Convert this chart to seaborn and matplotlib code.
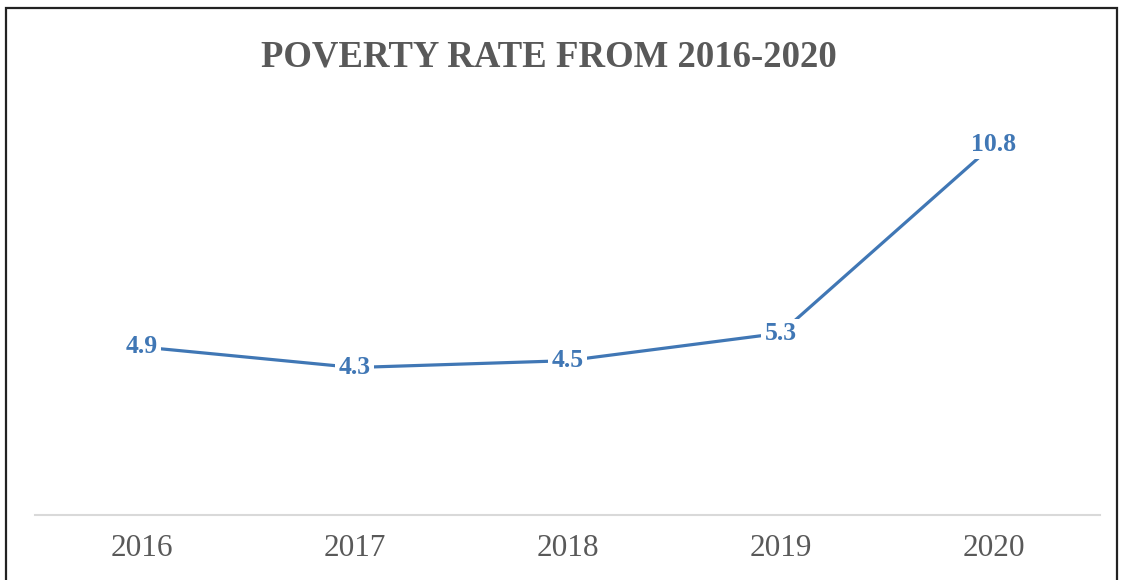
import matplotlib
matplotlib.use("Agg")
import matplotlib.pyplot as plt
import seaborn as sns
import pandas as pd
from matplotlib.patches import Rectangle

years = ["2016", "2017", "2018", "2019", "2020"]
poverty_rate = [4.9, 4.3, 4.5, 5.3, 10.8]
title = "POVERTY RATE FROM 2016-2020"

sns.set_theme(style="white")
plt.rcParams["font.family"] = ["Liberation Serif", "DejaVu Serif"]

df = pd.DataFrame({"year": years, "rate": poverty_rate})

fig = plt.figure(figsize=(11.21, 5.80), dpi=100)
ax = fig.add_axes([35 / 1121, 1 - 515 / 580, 1065 / 1121, 415 / 580])

line_color = "#4077b5"
sns.lineplot(data=df, x="year", y="rate", ax=ax, color=line_color,
             linewidth=2.3, sort=False)

for i, v in enumerate(poverty_rate):
    ax.text(i, v, f"{v}", ha="center", va="center", fontsize=18.5,
            fontweight="bold", color=line_color, zorder=5,
            bbox=dict(boxstyle="square,pad=0.12", fc="white", ec="none"))

ax.set_xlim(-0.5, len(years) - 0.5)
ax.set_ylim(0, 12.1)
ax.set_xlabel("")
ax.set_ylabel("")
ax.set_yticks([])
ax.tick_params(axis="x", length=0, pad=14, labelsize=22.5, labelcolor="#595959")
for s in ["top", "left", "right"]:
    ax.spines[s].set_visible(False)
ax.spines["bottom"].set_color("#d9d9d9")
ax.spines["bottom"].set_linewidth(1.5)

fig.text(549 / 1121, 1 - 57 / 580, title, ha="center", va="center", fontsize=26.5,
         fontweight="bold", color="#595959")

border = Rectangle((6 / 1121, -0.02), (1117 - 6) / 1121, 1 - 8 / 580 + 0.02,
                   transform=fig.transFigure, fill=False, ec="#222222",
                   lw=1.6, clip_on=False)
fig.patches.append(border)

fig.savefig("out.png", dpi=100)
